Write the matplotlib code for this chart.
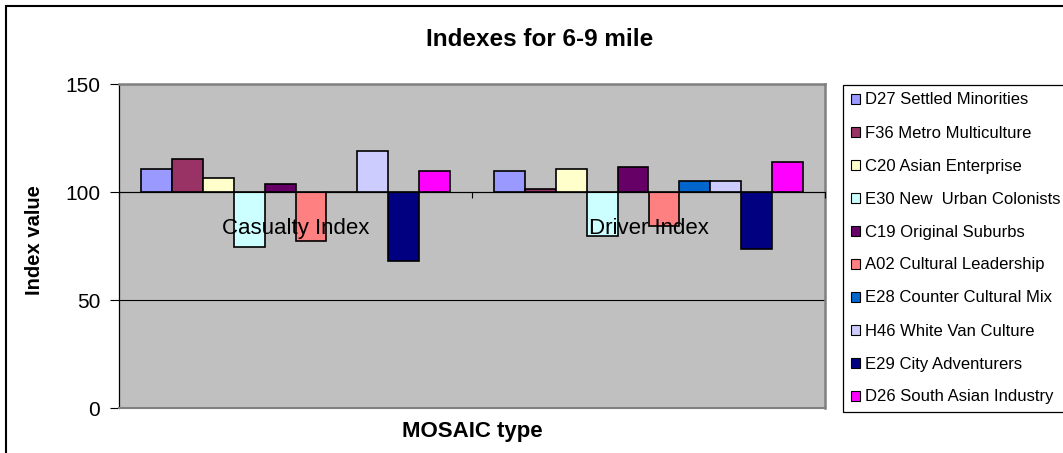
import numpy as np
import matplotlib
matplotlib.use('Agg')
import matplotlib.pyplot as plt
from matplotlib.patches import Patch, Rectangle

plt.rcParams['font.family'] = ['Liberation Sans', 'DejaVu Sans']

# data
categories = ['Casualty Index', 'Driver Index']
series_names = [
    'D27 Settled Minorities', 'F36 Metro Multiculture', 'C20 Asian Enterprise',
    'E30 New  Urban Colonists', 'C19 Original Suburbs', 'A02 Cultural Leadership',
    'E28 Counter Cultural Mix', 'H46 White Van Culture', 'E29 City Adventurers',
    'D26 South Asian Industry',
]
casualty_index = [110.8, 115.1, 106.5, 74.5, 103.6, 77.3, 100.0, 119.0, 68.1, 109.6]
driver_index = [109.6, 101.6, 110.8, 79.6, 111.6, 84.3, 105.1, 105.1, 73.8, 113.8]
series_colors = ['#9999FF', '#993366', '#FFFFCC', '#CCFFFF', '#660066',
                 '#FF8080', '#0066CC', '#CCCCFF', '#000080', '#FF00FF']
y_ticks = [0, 50, 100, 150]

W, H = 1063, 453
fig = plt.figure(figsize=(W / 100, H / 100), dpi=100)
ax = fig.add_axes([119 / W, 1 - 408 / H, (825 - 119) / W, (408 - 84) / H])
ax.set_facecolor('#C0C0C0')

values = np.array([casualty_index, driver_index])   # [n_cat, n_series]
n_series = values.shape[1]
bar_w = 0.0875
x = np.arange(len(categories))
for s in range(n_series):
    offs = (s - (n_series - 1) / 2) * bar_w
    ax.bar(x + offs, values[:, s] - 100, bottom=100, width=bar_w,
           color=series_colors[s], edgecolor='black', linewidth=1.2, zorder=2)

ax.set_xlim(-0.5, len(categories) - 0.5)
ax.set_ylim(0, 150)
ax.set_yticks(y_ticks)
ax.tick_params(axis='y', direction='out', length=6.5, width=0.8, pad=7, labelsize=15)
ax.yaxis.grid(True, color='black', linewidth=0.8)
ax.set_axisbelow(True)

# category axis crosses at 100, like the Excel original; its labels sit over the bars
ax.spines['bottom'].set_position(('data', 100))
ax.spines['bottom'].set_linewidth(0.8)
ax.spines['bottom'].set_zorder(3)
ax.xaxis.set_zorder(4)
ax.set_xticks(x)
ax.set_xticklabels(categories)
ax.set_xticks(np.arange(len(categories) + 1) - 0.5, minor=True)
ax.tick_params(axis='x', which='major', length=0, pad=18.5, labelsize=16)
ax.tick_params(axis='x', which='minor', direction='out', length=4.5, width=0.8)
ax.spines['left'].set_linewidth(0.9)
for side in ('top', 'right'):
    ax.spines[side].set_color('#808080')
    ax.spines[side].set_linewidth(1.8)
ax.axhline(0, color='#808080', linewidth=1.5, clip_on=False, zorder=3)

fig.text(540 / W, 1 - 40 / H, 'Indexes for 6-9 mile', ha='center', va='center',
         fontsize=17.5, fontweight='bold')
fig.text(472 / W, 1 - 431 / H, 'MOSAIC type', ha='center', va='center',
         fontsize=16, fontweight='bold')
fig.text(35 / W, 1 - 240 / H, 'Index value', ha='center', va='center',
         rotation=90, fontsize=14.5, fontweight='bold')

handles = [Patch(facecolor=c, edgecolor='black', linewidth=0.8) for c in series_colors]
leg = fig.legend(handles, series_names, loc='upper left',
                 bbox_to_anchor=(843 / W, 1 - 85 / H), fontsize=12,
                 frameon=True, fancybox=False, framealpha=1, edgecolor='black',
                 handlelength=0.55, handleheight=0.55, handletextpad=0.3,
                 labelspacing=1.08, borderpad=0.45, borderaxespad=0)
leg.get_frame().set_linewidth(0.9)

# outer chart border
fig.patches.append(Rectangle((6 / W, -0.1), 1.1, 1 - 6 / H + 0.1, transform=fig.transFigure,
                             fill=False, edgecolor='black', linewidth=1.5))

plt.savefig('out.png', dpi=100)
plt.close()
